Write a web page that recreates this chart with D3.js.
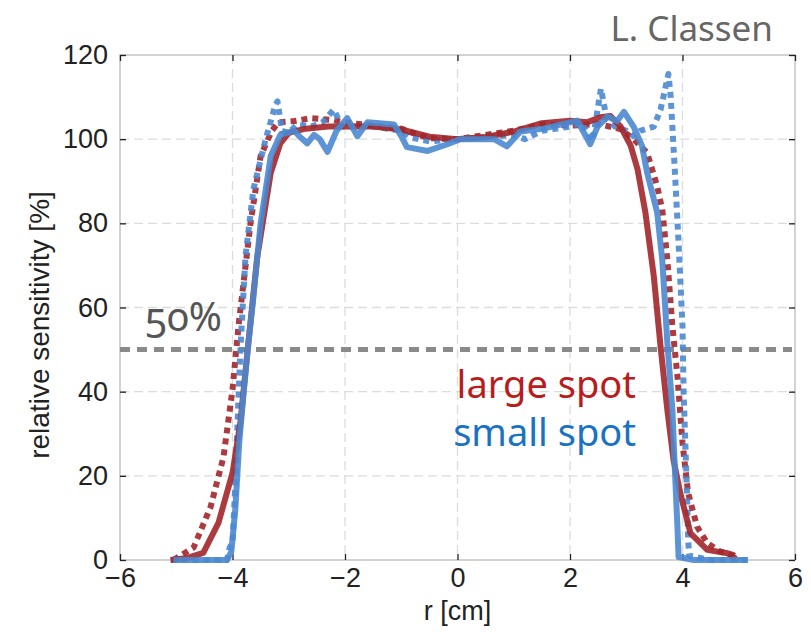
<!DOCTYPE html>
<html>

<head>
    <title>Relative sensitivity</title>
    <script src="https://d3js.org/d3.v7.min.js"></script>
    <style>
        body { margin: 0; background: white; }
        svg text { font-family: "Liberation Sans", Arial, sans-serif; }
        .fira { font-family: "Noto Sans", "Open Sans", sans-serif; font-variant-numeric: oldstyle-nums; }
    </style>
</head>

<body>
    <div id="chart"></div>
    <script>
        // DATA

        var xTicks = [-6, -4, -2, 0, 2, 4, 6]
        var yTicks = [0, 20, 40, 60, 80, 100, 120]
        var thresholdLevel = 50

        var largeSolid = [[-5.1, 0], [-4.8, 0.5], [-4.52, 1.7], [-4.25, 8.8], [-4.0, 20.7], [-3.86, 32.6], [-3.73, 50],
        [-3.56, 72], [-3.32, 92], [-3.15, 99], [-3.0, 101.5], [-2.7, 102.5], [-2.3, 103], [-2, 103], [-1.5, 103],
        [-1, 102.3], [-0.5, 100.6], [0, 100], [0.5, 100.5], [1, 101.8], [1.5, 103.8], [2, 104.4], [2.3, 104],
        [2.54, 105.2], [2.72, 105.5], [2.9, 103], [3.08, 98.4], [3.2, 92.9], [3.34, 82.6], [3.49, 67.4], [3.61, 50.7],
        [3.73, 35.7], [3.84, 23.8], [3.96, 15.9], [4.14, 6.4], [4.44, 2.4], [4.8, 1.6], [4.95, 0.3]]

        var largeDotted = [[-5.05, 0], [-4.69, 3], [-4.39, 12.6], [-4.16, 24.5], [-4.0, 40.5], [-3.89, 56], [-3.68, 80],
        [-3.5, 96], [-3.3, 102], [-3.18, 104], [-2.9, 104.3], [-2.6, 105], [-2.2, 104.5], [-2, 104], [-1.5, 103.2],
        [-1, 102.5], [-0.8, 101.5], [-0.5, 100.2], [0, 100], [0.5, 101], [1, 102], [1.5, 103.5], [2, 103.2],
        [2.5, 103.6], [2.9, 102.4], [3.13, 100], [3.37, 96.8], [3.55, 88.8], [3.64, 83.3], [3.73, 71.4], [3.82, 55.6],
        [3.91, 43.7], [4.0, 27.8], [4.1, 15.9], [4.26, 7.9], [4.44, 4], [4.67, 2], [4.9, 1.2], [5.0, 0]]

        var smallSolid = [[-5.05, 0], [-4.1, 0], [-4.02, 2], [-3.95, 12], [-3.88, 28], [-3.8, 40], [-3.73, 50],
        [-3.64, 61], [-3.5, 80], [-3.32, 96], [-3.15, 101], [-2.9, 102], [-2.8, 100.5], [-2.67, 99], [-2.55, 101],
        [-2.45, 100], [-2.31, 97], [-2.15, 102], [-1.96, 105], [-1.78, 100.7], [-1.6, 104], [-1.13, 103.5],
        [-1.0, 100.7], [-0.9, 98.1], [-0.53, 97.2], [-0.18, 98.8], [0.05, 100], [0.65, 100], [0.88, 98.3],
        [1.12, 101.8], [1.53, 102.5], [2.13, 104.4], [2.36, 98.8], [2.49, 103], [2.67, 105.4], [2.84, 104.3],
        [2.96, 106.5], [3.13, 103], [3.28, 98.4], [3.37, 92.1], [3.55, 82.6], [3.64, 71.4], [3.73, 51.7],
        [3.82, 35.7], [3.87, 19.8], [3.91, 7.9], [3.93, 0.7], [4.2, 0], [5.16, 0]]

        var smallDotted = [[-5.1, 0], [-4.1, 0], [-4.05, 3], [-4.0, 4], [-3.96, 15], [-3.91, 32.6], [-3.86, 50],
        [-3.77, 72], [-3.63, 88], [-3.41, 100], [-3.24, 108], [-3.2, 109], [-3.12, 102], [-3.0, 101.5], [-2.85, 103.5],
        [-2.6, 103], [-2.4, 104], [-2.2, 107], [-2.05, 103], [-1.5, 103], [-1, 102], [-0.85, 100.5], [-0.5, 99.5],
        [0, 100], [0.5, 100.5], [1, 101], [1.2, 100], [1.5, 102], [2, 103], [2.2, 104], [2.4, 99.5], [2.55, 112],
        [2.65, 105], [2.8, 103], [3.0, 102], [3.13, 100.7], [3.25, 102], [3.49, 103], [3.61, 107], [3.75, 115.5],
        [3.79, 110], [3.82, 103], [3.87, 91], [3.93, 75.4], [4.0, 55.6], [4.02, 39.7], [4.05, 27.8], [4.08, 16],
        [4.1, 4.8], [4.12, 1], [4.5, 0], [5.2, 0]]

        // GENERAL SETUP

        var width = 811
        var height = 637
        var plot = { left: 120, right: 795, top: 55, bottom: 560 }
        var red = '#a3262a'
        var blue = '#4a88d0'

        var svg = d3.select('#chart').append('svg')
            .attr('width', width)
            .attr('height', height)

        var x = d3.scaleLinear().domain([-6, 6]).range([plot.left, plot.right])
        var y = d3.scaleLinear().domain([0, 120]).range([plot.bottom, plot.top])

        // grid
        svg.append('g').selectAll('line').data(xTicks.slice(1, -1)).join('line')
            .attr('x1', d => x(d)).attr('x2', d => x(d))
            .attr('y1', plot.top).attr('y2', plot.bottom)
            .attr('stroke', '#dcdcdc').attr('stroke-width', 1.3).attr('stroke-dasharray', '9,5')
        svg.append('g').selectAll('line').data(yTicks.slice(1, -1)).join('line')
            .attr('x1', plot.left).attr('x2', plot.right)
            .attr('y1', d => y(d)).attr('y2', d => y(d))
            .attr('stroke', '#dcdcdc').attr('stroke-width', 1.3).attr('stroke-dasharray', '9,5')

        // box
        svg.append('rect')
            .attr('x', plot.left).attr('y', plot.top)
            .attr('width', plot.right - plot.left).attr('height', plot.bottom - plot.top)
            .attr('fill', 'none').attr('stroke', '#c4c4c4').attr('stroke-width', 1.5)

        // axes with inward ticks, labels only bottom / left
        var xAxis = d3.axisBottom(x).tickValues(xTicks).tickSize(-6).tickPadding(8)
            .tickFormat(d => d < 0 ? '\u2212' + Math.abs(d) : d)
        var yAxis = d3.axisLeft(y).tickValues(yTicks).tickSize(-6).tickPadding(12)
        svg.append('g').attr('transform', 'translate(0,' + plot.bottom + ')').call(xAxis)
        svg.append('g').attr('transform', 'translate(' + plot.left + ',0)').call(yAxis)
        svg.append('g').attr('transform', 'translate(0,' + plot.top + ')')
            .call(d3.axisTop(x).tickValues(xTicks).tickSize(-6).tickFormat(''))
        svg.append('g').attr('transform', 'translate(' + plot.right + ',0)')
            .call(d3.axisRight(y).tickValues(yTicks).tickSize(-6).tickFormat(''))
        svg.selectAll('.domain').remove()
        svg.selectAll('.tick line').attr('stroke', '#222').attr('stroke-width', 1.3)
        svg.selectAll('.tick text').attr('font-size', 27).attr('fill', '#222')
            .style('font-family', '"Liberation Sans", Arial, sans-serif')

        // axis titles
        svg.append('text')
            .attr('x', x(0)).attr('y', 620)
            .attr('text-anchor', 'middle')
            .attr('font-size', 27).attr('fill', '#222')
            .text('r [cm]')
        svg.append('text')
            .attr('transform', 'translate(49,325) rotate(-90)')
            .attr('text-anchor', 'middle')
            .attr('font-size', 28).attr('fill', '#222')
            .text('relative sensitivity [%]')

        // 50% threshold
        svg.append('line')
            .attr('x1', plot.left).attr('x2', plot.right - 3)
            .attr('y1', y(thresholdLevel)).attr('y2', y(thresholdLevel))
            .attr('stroke', '#8a8a8a').attr('stroke-width', 5).attr('stroke-dasharray', '10,7')

        // CURVES

        var line = d3.line().x(d => x(d[0])).y(d => y(d[1]))
        var curves = [
            { data: largeDotted, color: red, dash: '6,5' },
            { data: smallDotted, color: blue, dash: '6,5' },
            { data: largeSolid, color: red, dash: null },
            { data: smallSolid, color: blue, dash: null }
        ]
        curves.forEach(function (c) {
            svg.append('path')
                .attr('d', line(c.data))
                .attr('fill', 'none')
                .attr('stroke', c.color)
                .attr('stroke-width', 6)
                .attr('stroke-opacity', 0.9)
                .attr('stroke-linejoin', 'round')
                .attr('stroke-dasharray', c.dash)
        })

        // ANNOTATIONS

        svg.append('text').attr('class', 'fira')
            .attr('x', 222).attr('y', 331).attr('text-anchor', 'end')
            .attr('font-size', 40).attr('fill', '#555')
            .text('50%')
        svg.append('text').attr('class', 'fira')
            .attr('x', 636).attr('y', 398).attr('text-anchor', 'end')
            .attr('font-size', 38).attr('fill', '#b81c1c')
            .text('large spot')
        svg.append('text').attr('class', 'fira')
            .attr('x', 636).attr('y', 446).attr('text-anchor', 'end')
            .attr('font-size', 38).attr('fill', '#1a72c2')
            .text('small spot')
        svg.append('text').attr('class', 'fira')
            .attr('x', 773).attr('y', 41).attr('text-anchor', 'end')
            .attr('font-size', 35).attr('fill', '#666')
            .text('L. Classen')
    </script>
</body>

</html>
